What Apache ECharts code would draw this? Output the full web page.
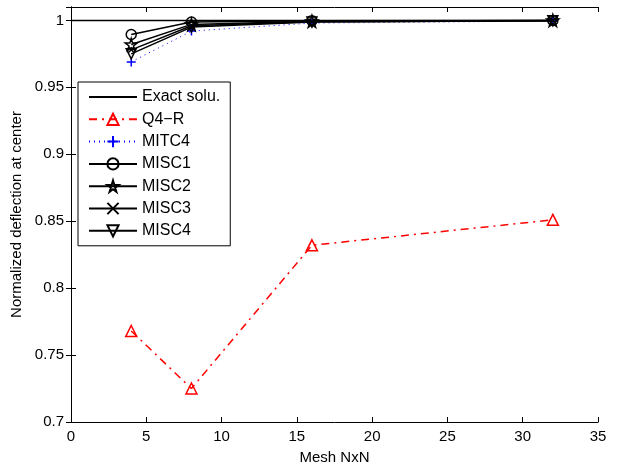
<!DOCTYPE html>
<html>
<head>
<meta charset="utf-8">
<script src="https://cdn.jsdelivr.net/npm/echarts@6/dist/echarts.min.js"></script>
<style>
  html, body { margin: 0; padding: 0; background: #fff; }
  #chart { width: 619px; height: 470px; }
</style>
</head>
<body>
<div id="chart"></div>
<script>
// mesh sizes
const meshN = [4, 8, 16, 32]
const exactX = [0, 32]
const exactY = [1, 1]
const q4r = [0.768, 0.725, 0.832, 0.851]
const mitc4 = [0.969, 0.992, 0.998, 0.9995]
const misc1 = [0.9895, 0.9988, 0.9998, 1.0]
const misc2 = [0.982, 0.997, 0.9993, 1.0]
const misc3 = [0.978, 0.996, 0.999, 0.9998]
const misc4 = [0.975, 0.995, 0.9988, 0.9997]
const yTicks = [0.7, 0.75, 0.8, 0.85, 0.9, 0.95, 1]

const font = 'Liberation Sans, Arial, Helvetica, sans-serif'
const pts = (xs, ys) => xs.map((x, i) => [x, ys[i]])

const starPath = 'path://M50,0L61,35L98,35L68,57L79,91L50,70L21,91L32,57L2,35L39,35Z'
const crossPath = 'path://M0,0L10,10M10,0L0,10'
const plusPath = 'path://M5,0L5,10M0,5L10,5'

function blackSeries (name, data, symbol, extra) {
  return Object.assign({
    name,
    type: 'line',
    data: pts(meshN, data),
    symbol,
    symbolSize: 10,
    lineStyle: { color: '#000', width: 1.5 },
    itemStyle: { color: 'rgba(0,0,0,0)', borderColor: '#000', borderWidth: 1.5 },
    emphasis: { disabled: true },
    z: 3
  }, extra || {})
}

const chart = echarts.init(document.getElementById('chart'))
chart.setOption({
  animation: false,
  backgroundColor: '#fff',
  textStyle: { fontFamily: font },
  grid: { left: 71, right: 21, top: 7, bottom: 47 },
  legend: {
    orient: 'vertical',
    left: 78,
    top: 82,
    backgroundColor: '#fff',
    borderColor: '#000',
    borderWidth: 1,
    borderRadius: 0,
    padding: [7, 10, 7, 10],
    itemWidth: 48,
    itemHeight: 14,
    itemGap: 6.3,
    textStyle: { fontSize: 16, color: '#000', fontFamily: font },
    data: ['Exact solu.', 'Q4\u2212R', 'MITC4', 'MISC1', 'MISC2', 'MISC3', 'MISC4']
  },
  xAxis: [{
    type: 'value',
    min: 0, max: 35, interval: 5,
    name: 'Mesh NxN',
    nameLocation: 'middle',
    nameGap: 28,
    nameTextStyle: { fontSize: 15, color: '#000', fontFamily: font },
    axisLine: { lineStyle: { color: '#000', width: 1 } },
    axisTick: { inside: true, length: 5, lineStyle: { color: '#000' } },
    axisLabel: { fontSize: 15, color: '#000', margin: 7 },
    splitLine: { show: false }
  }, {
    type: 'value',
    position: 'top',
    min: 0, max: 35, interval: 5,
    axisLine: { show: true, lineStyle: { color: '#000', width: 1 } },
    axisTick: { show: true, inside: true, length: 5, lineStyle: { color: '#000' } },
    axisLabel: { show: false },
    splitLine: { show: false }
  }],
  yAxis: [{
    type: 'value',
    min: 0.7, max: 1.01, interval: 0.05,
    name: 'Normalized deflection at center',
    nameLocation: 'middle',
    nameGap: 45,
    nameTextStyle: { fontSize: 15, color: '#000', fontFamily: font },
    axisLine: { show: true, lineStyle: { color: '#000', width: 1 } },
    axisTick: { inside: true, length: 5, lineStyle: { color: '#000' } },
    axisLabel: {
      fontSize: 15, color: '#000', margin: 7,
      showMaxLabel: false,
      formatter: v => {
        const r = Math.round(v * 100) / 100
        return yTicks.some(t => Math.abs(t - r) < 1e-6) ? String(+r.toFixed(2)) : ''
      }
    },
    splitLine: { show: false }
  }, {
    type: 'value',
    position: 'right',
    min: 0.7, max: 1.01, interval: 0.05,
    axisLine: { show: true, lineStyle: { color: '#000', width: 1 } },
    axisTick: { show: true, inside: true, length: 5, lineStyle: { color: '#000' } },
    axisLabel: { show: false },
    splitLine: { show: false }
  }],
  series: [
    {
      name: 'Exact solu.',
      type: 'line',
      data: pts(exactX, exactY),
      symbol: 'none',
      lineStyle: { color: '#000', width: 1.5 },
      itemStyle: { color: 'rgba(0,0,0,0)', borderColor: 'rgba(0,0,0,0)' },
      emphasis: { disabled: true },
      z: 2
    },
    {
      name: 'Q4\u2212R',
      type: 'line',
      data: pts(meshN, q4r),
      symbol: 'triangle',
      symbolSize: 11,
      lineStyle: { color: '#ff0000', width: 1.5, type: [8, 5, 2, 5] },
      itemStyle: { color: 'rgba(0,0,0,0)', borderColor: '#ff0000', borderWidth: 1.5 },
      emphasis: { disabled: true }
    },
    {
      name: 'MITC4',
      type: 'line',
      data: pts(meshN, mitc4),
      symbol: plusPath,
      symbolSize: 9,
      lineStyle: { color: '#0000ff', width: 1, type: [1, 4] },
      itemStyle: { color: 'rgba(0,0,0,0)', borderColor: '#0000ff', borderWidth: 1.5 },
      emphasis: { disabled: true }
    },
    blackSeries('MISC1', misc1, 'circle'),
    blackSeries('MISC2', misc2, starPath, { symbolSize: 12 }),
    blackSeries('MISC3', misc3, crossPath, { symbolSize: 6 }),
    blackSeries('MISC4', misc4, 'triangle', { symbolRotate: 180 })
  ]
})
</script>
</body>
</html>
